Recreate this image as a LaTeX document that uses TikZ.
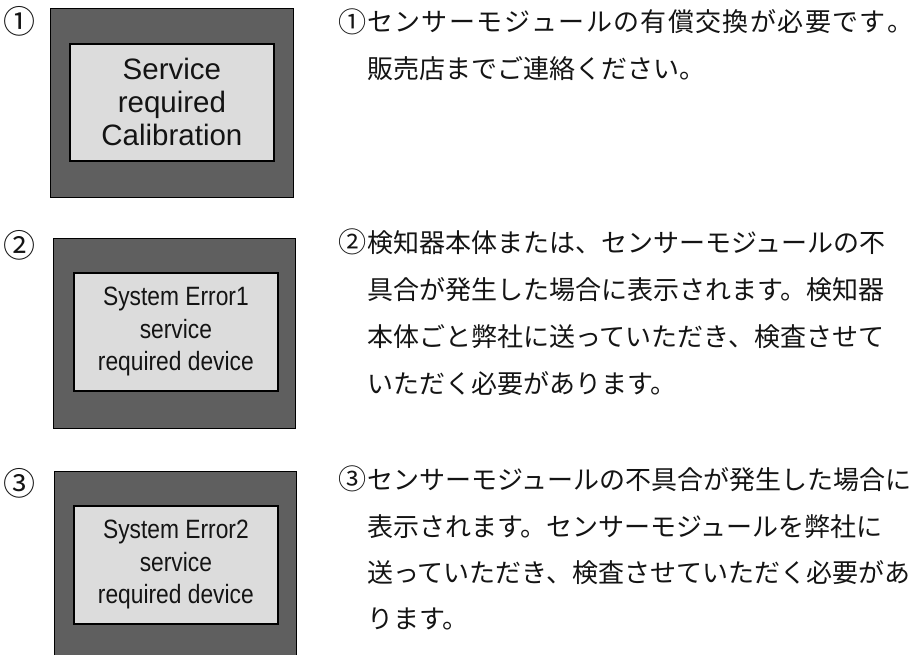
\documentclass[tikz,border=0pt]{standalone}
\usepackage{fontspec}
\setmainfont{Liberation Sans}
\newfontfamily\cjk{Noto Sans CJK JP}
\newfontfamily\narrowsans[FakeStretch=0.86]{Liberation Sans}
\newcommand{\circnum}[1]{\makebox[30pt][c]{\raisebox{-0.5pt}{\scalebox{1.08}{#1}}}}
\definecolor{outergray}{RGB}{95,95,95}
\definecolor{innergray}{RGB}{220,220,220}
\definecolor{ink}{RGB}{20,20,20}
\begin{document}
\begin{tikzpicture}[x=1pt,y=-1pt,
  outerbox/.style={draw=black, line width=1.4pt, fill=outergray, inner sep=0pt, anchor=north west},
  innerbox/.style={draw=black, line width=1.8pt, fill=innergray, inner sep=0pt, anchor=north west, align=center, text=ink},
  bigtext/.style={font=\fontsize{29.5}{33}\selectfont},
  smalltext/.style={font=\narrowsans\fontsize{26.5}{32.5}\selectfont},
  jp/.style={anchor=base west, inner sep=0pt, text=ink, font=\cjk\fontsize{26}{26}\selectfont},
  num/.style={anchor=center, inner sep=0pt, text=ink, font=\cjk\fontsize{32}{32}\selectfont}]
\useasboundingbox[fill=white] (0,0) rectangle (913,655);
% box 1
\node[outerbox, minimum width=243pt, minimum height=189pt] (o1) at (50,8) {};
\node[innerbox, bigtext, minimum width=204pt, minimum height=117pt] (i1) at (69,43) {Service\\required\\Calibration};
% box 2
\node[outerbox, minimum width=242pt, minimum height=190pt] (o2) at (53,238) {};
\node[innerbox, smalltext, minimum width=204pt, minimum height=118pt] (i2) at (73,272) {System Error1\\service\\required device};
% box 3
\begin{scope}
\clip (0,0) rectangle (913,655);
\node[outerbox, minimum width=242pt, minimum height=200pt] (o3) at (54,471) {};
\node[innerbox, smalltext, minimum width=204pt, minimum height=118pt] (i3) at (73,505) {System Error2\\service\\required device};
\end{scope}
% left numbers
\node[num] (n1) at (19,21) {①};
\node[num] (n2) at (19,245) {②};
\node[num] (n3) at (19,483) {③};
% paragraph 1
\node[jp] (p1a) at (337,32) {\hbox to 576pt{\circnum{①}セ\hfil ン\hfil サ\hfil ー\hfil モ\hfil ジ\hfil ュ\hfil ー\hfil ル\hfil の\hfil 有\hfil 償\hfil 交\hfil 換\hfil が\hfil 必\hfil 要\hfil で\hfil す\hfil 。}};
\node[jp] (p1b) at (367,79) {販売店までご連絡ください。};
% paragraph 2
\node[jp] (p2a) at (337,252) {\circnum{②}検知器本体または、センサーモジュールの不};
\node[jp] (p2b) at (367,299) {具合が発生した場合に表示されます。検知器};
\node[jp] (p2c) at (367,346) {本体ごと弊社に送っていただき、検査させて};
\node[jp] (p2d) at (367,393) {いただく必要があります。};
% paragraph 3
\node[jp] (p3a) at (337,489) {\circnum{③}センサーモジュールの不具合が発生した場合に};
\node[jp] (p3b) at (367,536) {表示されます。センサーモジュールを弊社に};
\node[jp] (p3c) at (367,582) {送っていただき、検査させていただく必要があ};
\node[jp] (p3d) at (367,628) {ります。};
\end{tikzpicture}
\end{document}
